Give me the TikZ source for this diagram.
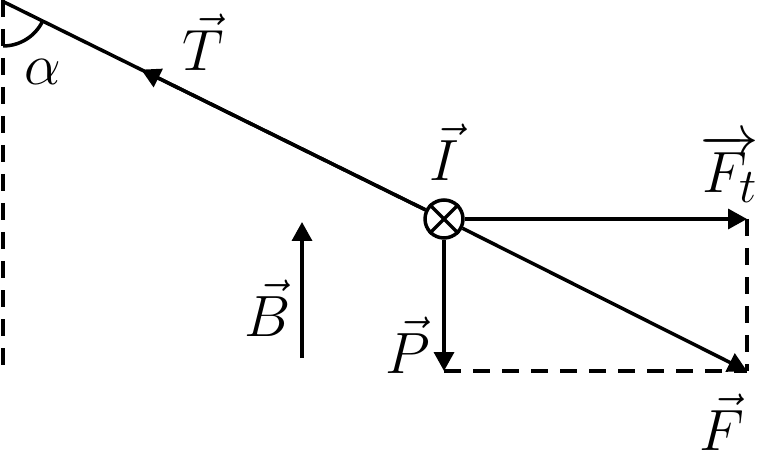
\documentclass[tikz,border=0pt]{standalone}
\usepackage{graphicx}
\usetikzlibrary{arrows.meta,calc}
\newcommand{\bigsym}[1]{\scalebox{1.17}{\Huge$#1$}}
\begin{document}
\begin{tikzpicture}[x=0.5pt,y=-0.5pt,
  vec/.style={line width=1.75pt},
  vtip/.style={-{Triangle[length=9.5pt,width=10pt]}},
  dsh/.style={line width=1.9pt,dash pattern=on 8.5pt off 6pt},
  lbl/.style={inner sep=0pt}]
\useasboundingbox (0,0) rectangle (769,459);
\coordinate (A) at (2,1);
\coordinate (dtop) at (3,0);
\coordinate (dbot) at (3,368);
\node[circle,draw,line width=1.75pt,minimum size=19pt,inner sep=0pt] (c) at (444,219) {};
\draw[line width=1.75pt] (c.45) -- (c.225) (c.135) -- (c.315);
\coordinate (tT) at ($(A)!0.315!(c)$);
\coordinate (Ft) at (747,219);
\coordinate (F) at (747,371);
\coordinate (P) at (444,371);
\coordinate (Bb) at (302,358);
\coordinate (Bt) at (302,222);
% dashed lines
\draw[dsh] (dtop) -- (dbot);
\draw[dsh] (Ft) -- (F);
\draw[dsh] (P) -- (F);
% main line with T arrow
\draw[vec] (A) -- (c);
\draw[vec,vtip] (c) -- (tT);
% force vectors
\draw[vec,vtip] (c) -- (Ft);
\draw[vec,vtip] (c) -- (F);
\draw[vec,vtip] (c) -- (P);
\draw[vec,vtip] (Bb) -- (Bt);
% angle
\draw[line width=1.75pt] (3,46) arc[start angle=90,end angle=26.2,radius=44];
% labels
\node[lbl] (la) at (43,72) {\bigsym{\alpha}};
\node[lbl] (lT) at (203,42) {\bigsym{\vec{T}}};
\node[lbl] (lI) at (444,152) {\bigsym{\vec{I}}};
\node[lbl] (lFt) at (730,168) {\bigsym{\overrightarrow{F_t}}};
\node[lbl] (lB) at (268,308) {\bigsym{\vec{B}}};
\node[lbl] (lP) at (408,345) {\bigsym{\vec{P}}};
\node[lbl] (lF) at (722,422) {\bigsym{\vec{F}}};
\end{tikzpicture}
\end{document}
